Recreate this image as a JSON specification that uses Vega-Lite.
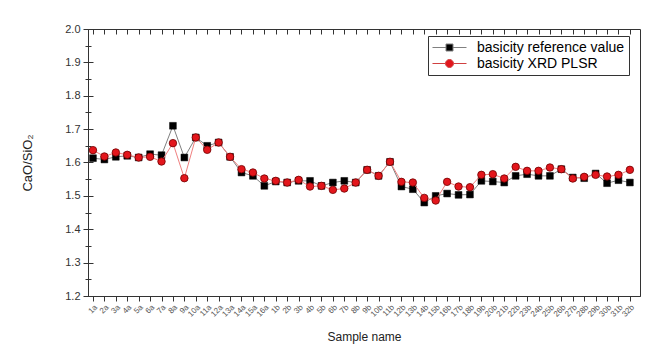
{
  "$schema": "https://vega.github.io/schema/vega-lite/v6.json",
  "width": 552,
  "height": 267,
  "autosize": "none",
  "padding": {"left": 88, "top": 29, "right": 22, "bottom": 49},
  "background": "white",
  "config": {"view": {"stroke": "#333", "strokeWidth": 1}, "font": "Liberation Sans"},
  "datasets": {
    "pts": [
      {"sample": "1a", "series": "basicity reference value", "value": 1.613}, {"sample": "1a", "series": "basicity XRD PLSR", "value": 1.637},
      {"sample": "2a", "series": "basicity reference value", "value": 1.609}, {"sample": "2a", "series": "basicity XRD PLSR", "value": 1.618},
      {"sample": "3a", "series": "basicity reference value", "value": 1.617}, {"sample": "3a", "series": "basicity XRD PLSR", "value": 1.630},
      {"sample": "4a", "series": "basicity reference value", "value": 1.620}, {"sample": "4a", "series": "basicity XRD PLSR", "value": 1.623},
      {"sample": "5a", "series": "basicity reference value", "value": 1.615}, {"sample": "5a", "series": "basicity XRD PLSR", "value": 1.615},
      {"sample": "6a", "series": "basicity reference value", "value": 1.625}, {"sample": "6a", "series": "basicity XRD PLSR", "value": 1.617},
      {"sample": "7a", "series": "basicity reference value", "value": 1.622}, {"sample": "7a", "series": "basicity XRD PLSR", "value": 1.603},
      {"sample": "8a", "series": "basicity reference value", "value": 1.710}, {"sample": "8a", "series": "basicity XRD PLSR", "value": 1.658},
      {"sample": "9a", "series": "basicity reference value", "value": 1.615}, {"sample": "9a", "series": "basicity XRD PLSR", "value": 1.553},
      {"sample": "10a", "series": "basicity reference value", "value": 1.675}, {"sample": "10a", "series": "basicity XRD PLSR", "value": 1.675},
      {"sample": "11a", "series": "basicity reference value", "value": 1.650}, {"sample": "11a", "series": "basicity XRD PLSR", "value": 1.638},
      {"sample": "12a", "series": "basicity reference value", "value": 1.660}, {"sample": "12a", "series": "basicity XRD PLSR", "value": 1.660},
      {"sample": "13a", "series": "basicity reference value", "value": 1.617}, {"sample": "13a", "series": "basicity XRD PLSR", "value": 1.617},
      {"sample": "14a", "series": "basicity reference value", "value": 1.570}, {"sample": "14a", "series": "basicity XRD PLSR", "value": 1.580},
      {"sample": "15a", "series": "basicity reference value", "value": 1.560}, {"sample": "15a", "series": "basicity XRD PLSR", "value": 1.570},
      {"sample": "16a", "series": "basicity reference value", "value": 1.530}, {"sample": "16a", "series": "basicity XRD PLSR", "value": 1.552},
      {"sample": "1b", "series": "basicity reference value", "value": 1.543}, {"sample": "1b", "series": "basicity XRD PLSR", "value": 1.545},
      {"sample": "2b", "series": "basicity reference value", "value": 1.540}, {"sample": "2b", "series": "basicity XRD PLSR", "value": 1.540},
      {"sample": "3b", "series": "basicity reference value", "value": 1.545}, {"sample": "3b", "series": "basicity XRD PLSR", "value": 1.548},
      {"sample": "4b", "series": "basicity reference value", "value": 1.545}, {"sample": "4b", "series": "basicity XRD PLSR", "value": 1.528},
      {"sample": "5b", "series": "basicity reference value", "value": 1.530}, {"sample": "5b", "series": "basicity XRD PLSR", "value": 1.530},
      {"sample": "6b", "series": "basicity reference value", "value": 1.540}, {"sample": "6b", "series": "basicity XRD PLSR", "value": 1.518},
      {"sample": "7b", "series": "basicity reference value", "value": 1.545}, {"sample": "7b", "series": "basicity XRD PLSR", "value": 1.522},
      {"sample": "8b", "series": "basicity reference value", "value": 1.540}, {"sample": "8b", "series": "basicity XRD PLSR", "value": 1.540},
      {"sample": "9b", "series": "basicity reference value", "value": 1.578}, {"sample": "9b", "series": "basicity XRD PLSR", "value": 1.578},
      {"sample": "10b", "series": "basicity reference value", "value": 1.560}, {"sample": "10b", "series": "basicity XRD PLSR", "value": 1.560},
      {"sample": "11b", "series": "basicity reference value", "value": 1.602}, {"sample": "11b", "series": "basicity XRD PLSR", "value": 1.602},
      {"sample": "12b", "series": "basicity reference value", "value": 1.528}, {"sample": "12b", "series": "basicity XRD PLSR", "value": 1.542},
      {"sample": "13b", "series": "basicity reference value", "value": 1.520}, {"sample": "13b", "series": "basicity XRD PLSR", "value": 1.540},
      {"sample": "14b", "series": "basicity reference value", "value": 1.480}, {"sample": "14b", "series": "basicity XRD PLSR", "value": 1.494},
      {"sample": "15b", "series": "basicity reference value", "value": 1.500}, {"sample": "15b", "series": "basicity XRD PLSR", "value": 1.486},
      {"sample": "16b", "series": "basicity reference value", "value": 1.507}, {"sample": "16b", "series": "basicity XRD PLSR", "value": 1.542},
      {"sample": "17b", "series": "basicity reference value", "value": 1.503}, {"sample": "17b", "series": "basicity XRD PLSR", "value": 1.528},
      {"sample": "18b", "series": "basicity reference value", "value": 1.504}, {"sample": "18b", "series": "basicity XRD PLSR", "value": 1.526},
      {"sample": "19b", "series": "basicity reference value", "value": 1.545}, {"sample": "19b", "series": "basicity XRD PLSR", "value": 1.563},
      {"sample": "20b", "series": "basicity reference value", "value": 1.543}, {"sample": "20b", "series": "basicity XRD PLSR", "value": 1.565},
      {"sample": "21b", "series": "basicity reference value", "value": 1.540}, {"sample": "21b", "series": "basicity XRD PLSR", "value": 1.552},
      {"sample": "22b", "series": "basicity reference value", "value": 1.560}, {"sample": "22b", "series": "basicity XRD PLSR", "value": 1.587},
      {"sample": "23b", "series": "basicity reference value", "value": 1.565}, {"sample": "23b", "series": "basicity XRD PLSR", "value": 1.575},
      {"sample": "24b", "series": "basicity reference value", "value": 1.560}, {"sample": "24b", "series": "basicity XRD PLSR", "value": 1.575},
      {"sample": "25b", "series": "basicity reference value", "value": 1.560}, {"sample": "25b", "series": "basicity XRD PLSR", "value": 1.585},
      {"sample": "26b", "series": "basicity reference value", "value": 1.580}, {"sample": "26b", "series": "basicity XRD PLSR", "value": 1.580},
      {"sample": "27b", "series": "basicity reference value", "value": 1.555}, {"sample": "27b", "series": "basicity XRD PLSR", "value": 1.552},
      {"sample": "28b", "series": "basicity reference value", "value": 1.553}, {"sample": "28b", "series": "basicity XRD PLSR", "value": 1.557},
      {"sample": "29b", "series": "basicity reference value", "value": 1.567}, {"sample": "29b", "series": "basicity XRD PLSR", "value": 1.563},
      {"sample": "30b", "series": "basicity reference value", "value": 1.538}, {"sample": "30b", "series": "basicity XRD PLSR", "value": 1.558},
      {"sample": "31b", "series": "basicity reference value", "value": 1.547}, {"sample": "31b", "series": "basicity XRD PLSR", "value": 1.563},
      {"sample": "32b", "series": "basicity reference value", "value": 1.540}, {"sample": "32b", "series": "basicity XRD PLSR", "value": 1.578}
    ]
  },
  "data": {"name": "pts"},
  "layer": [
    {
      "transform": [{"filter": "datum.series === 'basicity reference value'"}],
      "mark": {"type": "line", "color": "#808080", "strokeWidth": 1},
      "encoding": {
        "x": {"field": "sample", "type": "ordinal",
          "scale": {"type": "point", "domain": ["1a","2a","3a","4a","5a","6a","7a","8a","9a","10a","11a","12a","13a","14a","15a","16a","1b","2b","3b","4b","5b","6b","7b","8b","9b","10b","11b","12b","13b","14b","15b","16b","17b","18b","19b","20b","21b","22b","23b","24b","25b","26b","27b","28b","29b","30b","31b","32b"], "padding": 0.66, "align": 0.33},
          "axis": {"orient": "bottom", "title": "Sample name", "titleFontSize": 12, "titleFontWeight": "normal", "titleColor": "#222", "titlePadding": 13,
            "labelAngle": -45, "labelFontSize": 8, "labelColor": "#555", "labelPadding": 2, "tickSize": 5, "tickColor": "#333", "domainColor": "#333",
            "grid": true, "gridColor": "#333", "gridOpacity": 1, "gridWidth": 1, "gridDash": [5, 262]}},
        "y": {"field": "value", "type": "quantitative", "scale": {"domain": [1.2, 2.0], "nice": false, "zero": false},
          "axis": {"orient": "left", "title": "CaO/SiO₂", "titleFontSize": 13, "titleFontWeight": "normal", "titleColor": "#222", "titlePadding": 30,
            "values": [1.2,1.25,1.3,1.35,1.4,1.45,1.5,1.55,1.6,1.65,1.7,1.75,1.8,1.85,1.9,1.95,2.0],
            "labelExpr": "abs(datum.value*10 - round(datum.value*10)) < 0.01 ? format(datum.value, '.1f') : ''",
            "tickSize": {"condition": {"test": "abs(datum.value*10 - round(datum.value*10)) < 0.01", "value": 5}, "value": 3},
            "labelFontSize": 11, "labelColor": "#333", "labelPadding": 3, "tickColor": "#333", "domainColor": "#333",
            "grid": true, "gridColor": "#333", "gridOpacity": 1, "gridWidth": 1,
            "gridDash": {"condition": {"test": "abs(datum.value*10 - round(datum.value*10)) < 0.01", "value": [5, 547]}, "value": [3, 549]}}}
      }
    },
    {
      "transform": [{"filter": "datum.series === 'basicity reference value'"}],
      "mark": {"type": "point", "shape": "square", "filled": true, "size": 46, "fill": "#000", "stroke": "#000", "strokeWidth": 0.5, "opacity": 1},
      "encoding": {
        "x": {"field": "sample", "type": "ordinal", "axis": null},
        "y": {"field": "value", "type": "quantitative", "axis": null}
      }
    },
    {
      "transform": [{"filter": "datum.series === 'basicity XRD PLSR'"}],
      "mark": {"type": "line", "color": "#f08080", "strokeWidth": 1},
      "encoding": {
        "x": {"field": "sample", "type": "ordinal", "axis": null},
        "y": {"field": "value", "type": "quantitative", "axis": null}
      }
    },
    {
      "transform": [{"filter": "datum.series === 'basicity XRD PLSR'"}],
      "mark": {"type": "point", "shape": "circle", "filled": true, "size": 56, "fill": "#e3161c", "stroke": "#700000", "strokeWidth": 0.8, "opacity": 1},
      "encoding": {
        "x": {"field": "sample", "type": "ordinal", "axis": null},
        "y": {"field": "value", "type": "quantitative", "axis": null}
      }
    },
    {
      "mark": {"type": "point", "filled": true, "opacity": 0},
      "encoding": {
        "x": {"field": "sample", "type": "ordinal", "axis": null},
        "y": {"field": "value", "type": "quantitative", "axis": null},
        "shape": {"field": "series", "type": "nominal",
          "scale": {"domain": ["basicity reference value", "basicity XRD PLSR"], "range": ["M-2.43,0H-0.5M0.5,0H2.43M-0.5,-0.5H0.5V0.5H-0.5Z", "M-2.43,0H-0.57M0.57,0H2.43M-0.57,0A0.57,0.57 0 1,0 0.57,0A0.57,0.57 0 1,0 -0.57,0Z"]},
          "legend": {"title": null, "orient": "none", "legendX": 340, "legendY": 7, "symbolOpacity": 1, "symbolSize": 196, "symbolOffset": 10, "labelOffset": 20, "padding": 4, "rowPadding": 1, "strokeColor": "#333", "fillColor": "white", "labelFontSize": 14, "labelColor": "#000", "symbolStrokeWidth": 1}},
        "fill": {"field": "series", "type": "nominal",
          "scale": {"domain": ["basicity reference value", "basicity XRD PLSR"], "range": ["#000000", "#e3161c"]},
          "legend": {"title": null, "orient": "none", "legendX": 340, "legendY": 7, "symbolOpacity": 1, "symbolSize": 196, "symbolOffset": 10, "labelOffset": 20, "padding": 4, "rowPadding": 1, "strokeColor": "#333", "fillColor": "white", "labelFontSize": 14, "labelColor": "#000", "symbolStrokeWidth": 1}},
        "stroke": {"field": "series", "type": "nominal",
          "scale": {"domain": ["basicity reference value", "basicity XRD PLSR"], "range": ["#808080", "#d04040"]},
          "legend": {"title": null, "orient": "none", "legendX": 340, "legendY": 7, "symbolOpacity": 1, "symbolSize": 196, "symbolOffset": 10, "labelOffset": 20, "padding": 4, "rowPadding": 1, "strokeColor": "#333", "fillColor": "white", "labelFontSize": 14, "labelColor": "#000", "symbolStrokeWidth": 1}}
      }
    }
  ],
  "resolve": {"axis": {"x": "independent", "y": "independent"}}
}
